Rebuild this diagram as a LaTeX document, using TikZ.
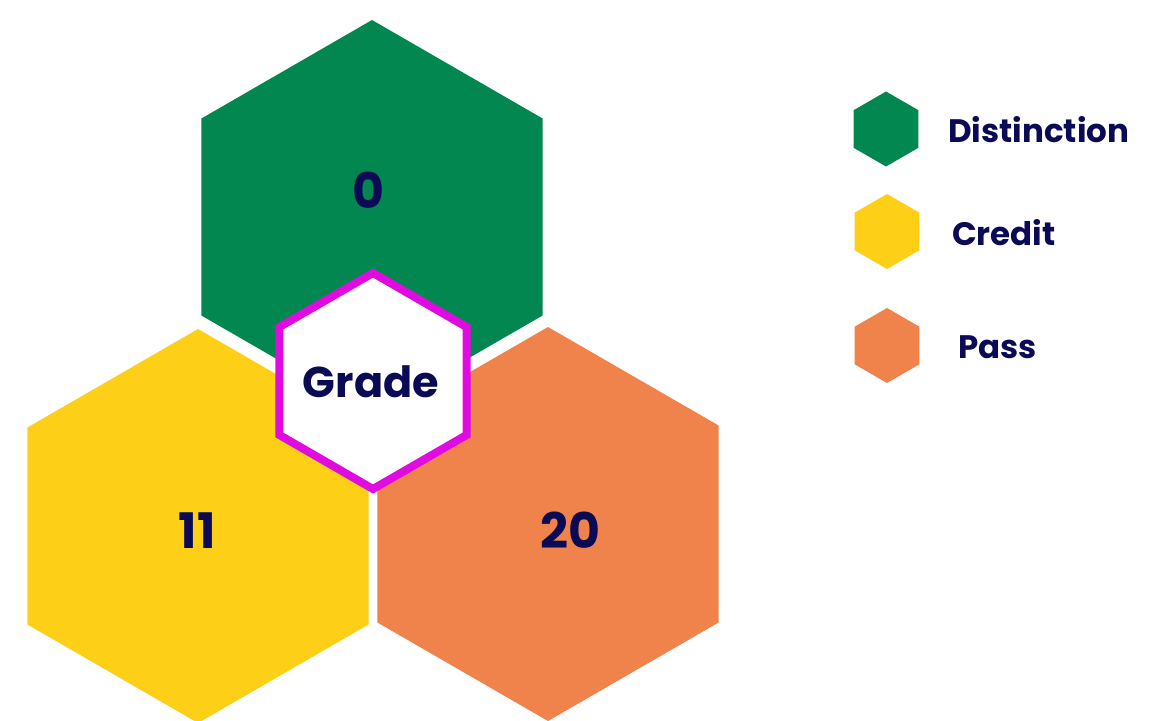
\documentclass[tikz,border=0pt]{standalone}
\usepackage{fontspec}
\setmainfont{Poppins}[BoldFont=* Bold]
\usetikzlibrary{shapes.geometric}
\definecolor{hgreen}{HTML}{038751}
\definecolor{hyellow}{HTML}{FDD017}
\definecolor{horange}{HTML}{F0824B}
\definecolor{navy}{HTML}{0B0B55}
\definecolor{magenta2}{HTML}{E00BE0}
\tikzset{
  hex/.style={regular polygon, regular polygon sides=6, shape border rotate=30, inner sep=0pt, outer sep=0pt, minimum size=#1},
  bighex/.style={hex=394pt},
  smallhex/.style={hex=75pt},
  numtxt/.style={text=navy, font=\fontsize{49}{49}\selectfont\bfseries, anchor=base, inner sep=0pt},
  gradetxt/.style={text=navy, font=\fontsize{43}{43}\selectfont\bfseries, anchor=base, inner sep=0pt},
  legtxt/.style={text=navy, font=\fontsize{32.5}{32.5}\selectfont\bfseries, anchor=base west, inner sep=0pt},
}
\begin{document}
\begin{tikzpicture}[x=1pt,y=-1pt]
\useasboundingbox (0,0) rectangle (1161,720);
\node[bighex, fill=hgreen] (g) at (372,217) {};
\node[bighex, fill=hyellow] (y) at (198,526) {};
\node[bighex, fill=horange] (o) at (548,524) {};
\node[hex=216pt, fill=white, draw=magenta2, line width=8pt] (c) at (373,381) {};
\node[numtxt] (t0) at (368,208) {0};
\node[numtxt] (t11) at (197,548) {11};
\node[numtxt] (t20) at (570,548) {20};
\node[gradetxt] (tg) at (371,397) {Grade};
\node[smallhex, fill=hgreen] (lg) at (886,129) {};
\node[smallhex, fill=hyellow] (ly) at (887,231.5) {};
\node[smallhex, fill=horange] (lo) at (887,345.5) {};
\node[legtxt] (dl) at (948,142) {Distinction};
\node[legtxt] (cl) at (952,245) {Credit};
\node[legtxt] (pl) at (958,358) {Pass};
\end{tikzpicture}
\end{document}
